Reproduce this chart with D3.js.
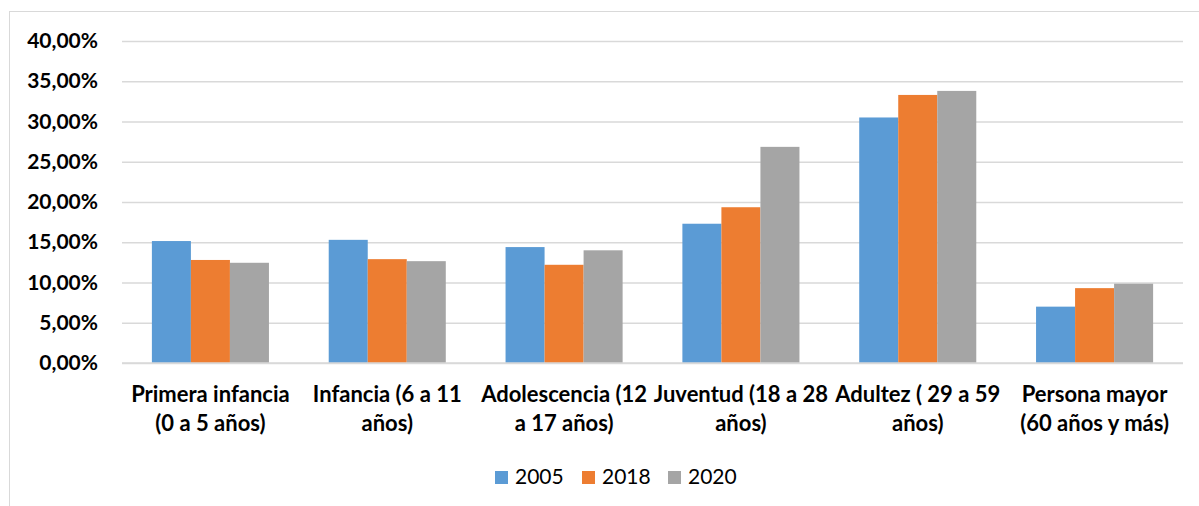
<!DOCTYPE html>
<html>
<head>
<meta charset="utf-8">
<script src="https://cdn.jsdelivr.net/npm/d3@7"></script>
<style>
  body { margin: 0; background: #fff; }
  text { font-family: Lato, "Open Sans", sans-serif; }
</style>
</head>
<body>
<div id="chart"></div>
<script>
// data
var categories = [
  ["Primera infancia", "(0 a 5 años)"],
  ["Infancia (6 a 11", "años)"],
  ["Adolescencia (12", "a 17 años)"],
  ["Juventud (18 a 28", "años)"],
  ["Adultez ( 29 a 59", "años)"],
  ["Persona mayor", "(60 años y más)"]
];
var seriesNames = ["2005", "2018", "2020"];
var values2005 = [15.15, 15.3, 14.4, 17.3, 30.5, 7.0];
var values2018 = [12.8, 12.9, 12.2, 19.35, 33.3, 9.3];
var values2020 = [12.45, 12.65, 14.0, 26.85, 33.8, 9.85];
var yTicks = [0, 5, 10, 15, 20, 25, 30, 35, 40];
var colors = ["#5b9bd5", "#ed7d31", "#a5a5a5"];

var width = 1199, height = 506;
var margin = {top: 41, right: 16, bottom: 143, left: 122};

var svg = d3.select("#chart")
    .append("svg")
    .attr("width", width)
    .attr("height", height)

// outer chart border
svg.append("rect")
    .attr("x", 9.5).attr("y", 11.5)
    .attr("width", width + 20).attr("height", height + 20)
    .attr("fill", "none")
    .attr("stroke", "#d9d9d9")
    .attr("stroke-width", 1)

var table = categories.map(function(c, i) {
  return {cat: i, vals: [values2005[i], values2018[i], values2020[i]]};
});

var x = d3.scaleBand()
    .domain(d3.range(categories.length))
    .range([margin.left, width - margin.right])
    .paddingInner(0.338)
    .paddingOuter(0.169);

var xs = d3.scaleBand()
    .domain(d3.range(seriesNames.length))
    .range([0, x.bandwidth()]);

var y = d3.scaleLinear()
    .domain([0, 40])
    .range([height - margin.bottom, margin.top]);

// gridlines
svg.append("g")
    .attr("transform", "translate(" + margin.left + ",0)")
    .call(d3.axisLeft(y).tickValues(yTicks)
      .tickSize(-(width - margin.left - margin.right))
      .tickFormat(""))
    .call(function(g) {
      g.select(".domain").remove();
      g.selectAll("line").attr("stroke", "#d9d9d9").attr("stroke-width", 1.5);
    })

// y labels
svg.append("g")
    .attr("transform", "translate(98,0)")
    .call(d3.axisLeft(y).tickValues(yTicks).tickSize(0).tickPadding(0)
      .tickFormat(function(d) { return d3.format(".2f")(d).replace(".", ",") + "%"; }))
    .call(function(g) {
      g.select(".domain").remove();
      g.selectAll("text")
        .attr("font-size", 21)
        .attr("font-weight", "bold")
        .attr("fill", "#000")
        .attr("font-family", "Lato, sans-serif");
    })

// bars
var groups = svg.append("g")
    .selectAll("g")
    .data(table)
    .enter()
    .append("g")
    .attr("transform", function(d) { return "translate(" + x(d.cat) + ",0)"; })

groups.selectAll("rect")
    .data(function(d) { return d.vals; })
    .enter()
    .append("rect")
    .attr("x", function(d, i) { return xs(i); })
    .attr("width", xs.bandwidth())
    .attr("y", function(d) { return y(d); })
    .attr("height", function(d) { return y(0) - y(d); })
    .attr("fill", function(d, i) { return colors[i]; })

// baseline
svg.append("line")
    .attr("x1", margin.left).attr("x2", width - margin.right)
    .attr("y1", y(0)).attr("y2", y(0))
    .attr("stroke", "#d9d9d9").attr("stroke-width", 1.5)

// category labels
var labels = svg.append("g")
    .selectAll("text")
    .data(categories)
    .enter()
    .append("text")
    .attr("x", function(d, i) { return x(i) + x.bandwidth() / 2; })
    .attr("y", 402)
    .attr("text-anchor", "middle")
    .attr("font-size", 22)
    .attr("font-weight", "bold")
    .attr("fill", "#000")

labels.selectAll("tspan")
    .data(function(d) { return d; })
    .enter()
    .append("tspan")
    .attr("x", function() { return d3.select(this.parentNode).attr("x"); })
    .attr("dy", function(d, i) { return i === 0 ? 0 : 28.5; })
    .text(function(d) { return d; })

// legend
var legendX = [495, 582, 668];
var legend = svg.append("g")
    .selectAll("g")
    .data(seriesNames)
    .enter()
    .append("g")
    .attr("transform", function(d, i) { return "translate(" + legendX[i] + ",471)"; })

legend.append("rect")
    .attr("width", 13).attr("height", 13)
    .attr("fill", function(d, i) { return colors[i]; })

legend.append("text")
    .attr("x", 20).attr("y", 13)
    .attr("font-size", 21)
    .attr("fill", "#000")
    .text(function(d) { return d; })
</script>
</body>
</html>
